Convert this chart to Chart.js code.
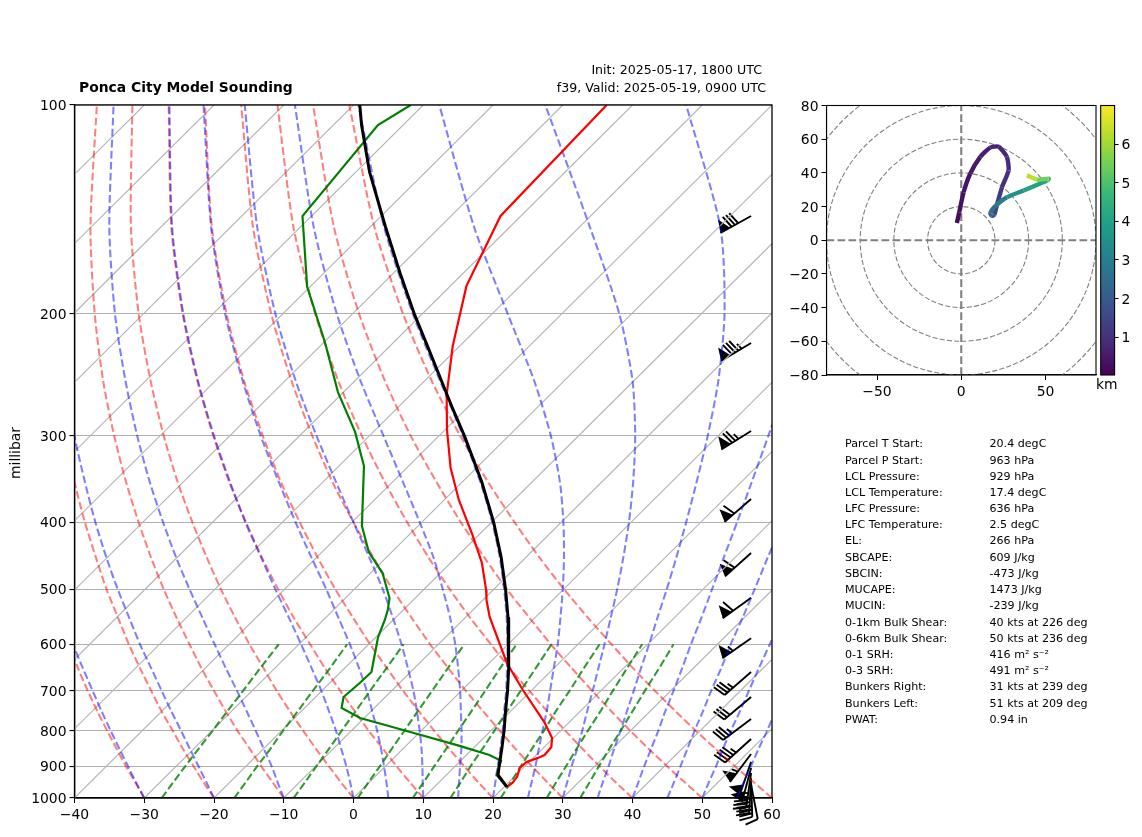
<!DOCTYPE html><html><head><meta charset="utf-8"><title>Ponca City Model Sounding</title>
<script src="https://cdn.jsdelivr.net/npm/chart.js"></script>
<style>
html,body{margin:0;padding:0;background:#fff}
#page{position:relative;width:1142px;height:837px;overflow:hidden;font-family:"DejaVu Sans",sans-serif;color:#000}
canvas{position:absolute;left:0;top:0}
.t{position:absolute;white-space:nowrap;line-height:1}
.s{font-size:11.1px}
.h{font-size:12.6px}
</style></head><body><div id="page">
<canvas id="main" width="1142" height="837"></canvas>
<canvas id="hodo" width="1142" height="837"></canvas>
<canvas id="cbar" width="1142" height="837"></canvas>
</div><script>
// ---------- sounding profiles (hPa, degC)
const tempP=[100,144.6,182.4,222.7,262.1,294.4,334,371.5,417.3,458,501,518,548,638.5,698.5,777,819,844,867,876,887,905,932,951,964];
const tempT=[-63.7,-62.9,-57.7,-51,-44.8,-39.7,-33.7,-27.9,-20.9,-15.5,-11,-9.5,-6.6,2.5,8.7,16.4,19.8,21,21.2,20.6,19.6,19.5,20.4,20.6,20.4];
const dewP=[100,106.9,144.6,183,219.8,259.6,296.3,331.9,405,441.6,473.6,514.5,535.6,553.5,585.8,621.8,658,682.4,715,741.4,766.6,797.7,841,867,884,926.4,964];
const dewT=[-91.8,-93.6,-91.3,-80.4,-69.9,-60.8,-52.6,-46.4,-38.05,-33.3,-28.3,-23.7,-22.2,-21.2,-19.7,-17.6,-15.6,-15.7,-16,-14.7,-10.6,-2.7,7.7,13.3,15.8,17.2,20.4];
const parcelP=[100,107,125,150,175,200,225,250,275,300,350,400,450,500,550,600,650,700,750,800,850,900,926.4,964];
const parcelT=[-99.1,-95.9,-88,-77.8,-69,-61.2,-54,-47.6,-41.8,-36.4,-27.2,-19.7,-13.5,-8.3,-3.8,0.1,3.5,6.6,9.3,11.9,14.2,16.3,17.4,20.4];
// ---------- wind barbs
const barbP=[144.6,220.5,295.4,370.2,443,514,588,658,715,769,822,864,887,905,920,936,948,957];
const barbSpeed=[80,85,75,60,60,60,55,35,30,35,45,55,50,50,45,45,40,10];
const barbDir=[241,239,238,229,228,234,235,229,230,233,228,217,199,195,188,183,178,169];
// ---------- thermodynamic guide lines
const pressureTicks=[1000,900,800,700,600,500,400,300,200,100];
const isotherms=[-130,-120,-110,-100,-90,-80,-70,-60,-50,-40,-30,-20,-10,0,10,20,30,40,50];
const isothermEnds=[1000,100];
const guideLevels=[1000,950,900,850,800,750,700,650,600,550,500,450,400,350,300,250,200,150,100];
const dryM30=[-30,-33.5,-37.2,-41,-45,-49.2,-53.6,-58.2,-63,-68.2,-73.7,-79.6,-86,-93,-100.8,-109.5,-119.6,-131.7,-147.2];
const dryM20=[-20,-23.7,-27.5,-31.5,-35.6,-40,-44.5,-49.3,-54.4,-59.7,-65.5,-71.6,-78.3,-85.6,-93.7,-102.8,-113.3,-125.9,-142];
const dryM10=[-10,-13.8,-17.8,-21.9,-26.3,-30.8,-35.5,-40.5,-45.7,-51.3,-57.3,-63.7,-70.6,-78.2,-86.6,-96.1,-107,-120.1,-136.8];
const dry0=[0,-4,-8.1,-12.4,-16.9,-21.6,-26.5,-31.6,-37.1,-42.9,-49.1,-55.7,-62.9,-70.8,-79.5,-89.3,-100.7,-114.3,-131.7];
const dry10=[10,5.9,1.6,-2.8,-7.5,-12.3,-17.4,-22.8,-28.4,-34.5,-40.9,-47.8,-55.2,-63.4,-72.4,-82.6,-94.4,-108.5,-126.5];
const dry20=[20,15.7,11.3,6.7,1.9,-3.1,-8.4,-13.9,-19.8,-26,-32.7,-39.8,-47.5,-56,-65.3,-75.9,-88.1,-102.7,-121.3];
const dry30=[30,25.6,21,16.2,11.3,6.1,0.6,-5.1,-11.2,-17.6,-24.5,-31.8,-39.8,-48.6,-58.2,-69.1,-81.7,-96.8,-116.1];
const dry40=[40,35.4,30.7,25.8,20.7,15.3,9.7,3.7,-2.5,-9.2,-16.3,-23.9,-32.1,-41.1,-51.1,-62.4,-75.4,-91,-110.9];
const dry50=[50,45.3,40.4,35.3,30,24.5,18.7,12.6,6.1,-0.7,-8.1,-15.9,-24.4,-33.7,-44.1,-55.7,-69.1,-85.2,-105.8];
const dry60=[60,55.2,50.1,44.9,39.4,33.7,27.7,21.4,14.8,7.7,0.1,-8,-16.7,-26.3,-37,-49,-62.8,-79.4,-100.6];
const moistM30=[-30,-33.4,-36.9,-40.6,-44.5,-48.6,-52.9,-57.5,-62.4,-67.5,-73,-79,-85.4,-92.4,-100.2,-109,-119.1,-131.3,-146.8];
const moistM20=[-20,-23.3,-26.8,-30.5,-34.4,-38.6,-43,-47.7,-52.8,-58.1,-63.9,-70.1,-76.8,-84.1,-92.3,-101.4,-112,-124.7,-141];
const moistM10=[-10,-13.1,-16.3,-19.9,-23.7,-27.8,-32.2,-37,-42.1,-47.6,-53.6,-60.1,-67.1,-74.8,-83.3,-92.9,-104.1,-117.4,-134.4];
const moist0=[0,-2.7,-5.6,-8.8,-12.2,-16,-20.1,-24.7,-29.7,-35.2,-41.3,-47.9,-55.3,-63.3,-72.3,-82.5,-94.3,-108.4,-126.4];
const moist5=[5,2.5,-0.2,-3.1,-6.3,-9.8,-13.6,-17.9,-22.7,-28.1,-34,-40.7,-48.1,-56.3,-65.6,-76.1,-88.3,-102.8,-121.5];
const moist10=[10,7.7,5.3,2.7,-0.2,-3.4,-6.9,-10.9,-15.3,-20.3,-25.9,-32.4,-39.8,-48.1,-57.6,-68.5,-81.1,-96.2,-115.6];
const moist15=[15,12.9,10.7,8.4,5.8,2.9,-0.2,-3.7,-7.6,-12.1,-17.3,-23.2,-30.3,-38.5,-48,-59.2,-72.3,-88.1,-108.4];
const moist20=[20,18.1,16.1,14,11.7,9.1,6.4,3.3,-0.1,-4,-8.5,-13.7,-19.9,-27.4,-36.6,-47.8,-61.4,-78,-99.3];
const moist25=[25,23.3,21.5,19.5,17.4,15.2,12.7,10,7.1,3.7,-0.1,-4.5,-9.7,-16,-24,-34.3,-47.8,-65.1,-87.7];
const moist30=[30,28.4,26.7,25,23.1,21,18.8,16.4,13.8,10.9,7.7,4,-0.3,-5.5,-11.9,-20.2,-31.8,-48.5,-72.5];
const moist35=[35,33.5,32,30.3,28.6,26.7,24.7,22.5,20.2,17.6,14.8,11.6,7.9,3.6,-1.5,-7.9,-16.7,-29.8,-52.3];
const moist40=[40,38.6,37.1,35.6,34,32.2,30.4,28.4,26.2,23.9,21.3,18.4,15.2,11.5,7.2,2,-4.8,-14.2,-30.2];
const moist45=[45,43.7,42.3,40.8,39.2,37.6,35.8,34,31.9,29.8,27.4,24.7,21.8,18.5,14.6,10.1,4.5,-3,-14.3];
const moist50=[50,48.7,47.4,45.9,44.4,42.9,41.2,39.4,37.5,35.4,33.1,30.6,27.9,24.8,21.3,17.1,12,5.6,-3.6];
const moist55=[55,53.7,52.4,51,49.6,48,46.4,44.7,42.8,40.8,38.6,36.2,33.6,30.6,27.3,23.4,18.6,12.7,4.4];
const mixLevels=[1000,950,900,850,800,750,700,650,600];
const mix4=[-27.5,-28.1,-28.7,-29.3,-29.9,-30.6,-31.3,-32.1,-32.9];
const mix10=[-17.1,-17.7,-18.4,-19,-19.8,-20.5,-21.3,-22.1,-23.1];
const mix20=[-8.6,-9.2,-9.9,-10.6,-11.4,-12.2,-13.1,-14,-15];
const mix40=[0.6,-0.1,-0.8,-1.6,-2.4,-3.3,-4.2,-5.2,-6.3];
const mix70=[8.5,7.8,7,6.2,5.3,4.4,3.4,2.3,1.2];
const mix100=[13.9,13.1,12.2,11.4,10.5,9.5,8.5,7.4,6.2];
const mix160=[21.1,20.3,19.4,18.5,17.6,16.5,15.5,14.3,13.1];
const mix240=[27.7,26.8,25.9,24.9,23.9,22.9,21.7,20.5,19.2];
const mix320=[32.5,31.6,30.6,29.6,28.6,27.5,26.3,25.1,23.7];
// ---------- hodograph
const hodoU=[-2.6,-1.2,1.4,5.3,11.3,17.2,22.2,27.1,28.1,24.2,21.6,19.6,18.2,17.2,20.2,27.1,37,50.9,51.9,45,39];
const hodoV=[10.2,16.6,28.5,39.5,49.5,55,55.5,49.5,41.5,31.5,22.5,15,14.6,16.2,20.2,25.5,29.5,35.5,36.5,36,38.5];
const hodoKm=[0.1,0.2,0.3,0.4,0.5,0.6,0.7,0.8,0.9,1,1.2,1.5,1.8,2,2.5,3,3.5,4,4.6,5.5,6.3];
const hodoRings=[20,40,60,80,100];
const hodoXTicks=[-50,0,50];
const colorbarTicks=[1,2,3,4,5,6];
const viridisStops=['#440154','#482878','#3e4989','#31688e','#26828e','#1f9e89','#35b779','#6ece58','#b5de2b','#fde725'];
// ---------- text
const statLabels=['Parcel T Start:','Parcel P Start:','LCL Pressure:','LCL Temperature:','LFC Pressure:','LFC Temperature:','EL:','SBCAPE:','SBCIN:','MUCAPE:','MUCIN:','0-1km Bulk Shear:','0-6km Bulk Shear:','0-1 SRH:','0-3 SRH:','Bunkers Right:','Bunkers Left:','PWAT:'];
const statValues=['20.4 degC','963 hPa','929 hPa','17.4 degC','636 hPa','2.5 degC','266 hPa','609 J/kg','-473 J/kg','1473 J/kg','-239 J/kg','40 kts at 226 deg','50 kts at 236 deg','416 m² s⁻²','491 m² s⁻²','31 kts at 239 deg','51 kts at 209 deg','0.94 in'];
const statY=[443.3,460,476,492.3,508.3,524.3,540.7,557,573,589.3,605.3,622.3,638.3,654,670,686.3,703,719];

const FONT='"DejaVu Sans", sans-serif';
const minus=v=>String(v).replace('-','\u2212');
const skew=(t,p)=>t+100*Math.log10(1000/p);
const pts=(ts,ps)=>ts.map((t,i)=>({x:skew(t,ps[i]),y:ps[i]}));
const DASH=[7.7,3.3];
const guide=(ts,ps,color,order,tension)=>({data:pts(ts,ps),borderColor:color,borderWidth:2.08,borderDash:DASH,pointRadius:0,showLine:true,tension,order});
const RED='rgba(255,0,0,0.5)',BLUE='rgba(0,0,255,0.5)',GREEN='rgba(0,128,0,0.8)';
const datasets=[];
isotherms.forEach(t=>datasets.push({data:pts(isothermEnds.map(()=>t),isothermEnds),borderColor:'#b4b4b4',borderWidth:1.1,pointRadius:0,showLine:true,order:50}));
[dryM30,dryM20,dryM10,dry0,dry10,dry20,dry30,dry40,dry50,dry60].forEach(a=>datasets.push(guide(a,guideLevels,RED,40,0.25)));
[moistM30,moistM20,moistM10,moist0,moist5,moist10,moist15,moist20,moist25,moist30,moist35,moist40,moist45,moist50,moist55].forEach(a=>datasets.push(guide(a,guideLevels,BLUE,30,0.25)));
[mix4,mix10,mix20,mix40,mix70,mix100,mix160,mix240,mix320].forEach(a=>datasets.push(guide(a,mixLevels,GREEN,20,0)));
datasets.push({data:pts(dewT,dewP),borderColor:'#008000',borderWidth:2.2,pointRadius:0,showLine:true,order:3});
datasets.push({data:pts(tempT,tempP),borderColor:'#ff0000',borderWidth:2.2,pointRadius:0,showLine:true,order:2});
datasets.push({data:pts(parcelT,parcelP),borderColor:'#000',borderWidth:3,pointRadius:0,showLine:true,order:1,borderJoinStyle:'round'});

function drawBarb(c,px,py,speed,dir){
  const LEN=35,H=13,W=11,SP=3.7,SL=3;
  const r=dir*Math.PI/180, dx=Math.sin(r), dy=-Math.cos(r), nx=-dy, ny=dx;
  let s=Math.round(speed/5)*5, flags=Math.floor(s/50); s-=flags*50;
  let full=Math.floor(s/10); s-=full*10; const half=s>=5;
  const ex=px+dx*LEN, ey=py+dy*LEN;
  c.strokeStyle='#000';c.fillStyle='#000';c.lineWidth=1.9;c.lineCap='butt';
  c.beginPath();c.moveTo(px,py);c.lineTo(ex,ey);c.stroke();
  let off=0;
  const at=(o,h,w)=>[ex-dx*o+nx*h+dx*w, ey-dy*o+ny*h+dy*w];
  for(let i=0;i<flags;i++){
    c.beginPath();const a=at(off,0,0),b=at(off,H,-W*0.4),d=at(off+W,0,0);
    c.moveTo(a[0],a[1]);c.lineTo(b[0],b[1]);c.lineTo(d[0],d[1]);c.closePath();c.fill();
    off+=W+1.8;
  }
  for(let i=0;i<full;i++){
    const a=at(off,0,0),b=at(off,H,SL);
    c.beginPath();c.moveTo(a[0],a[1]);c.lineTo(b[0],b[1]);c.stroke();off+=SP;
  }
  if(half){
    const a=at(off,0,0),b=at(off,H/2,SL/2);
    c.beginPath();c.moveTo(a[0],a[1]);c.lineTo(b[0],b[1]);c.stroke();
  }
}
const barbPlugin={id:'barbs',beforeDatasetsDraw(ch){
  const x=ch.scales.x,y=ch.scales.y,c=ch.ctx;c.save();
  barbP.forEach((p,i)=>drawBarb(c,x.getPixelForValue(57),y.getPixelForValue(p),barbSpeed[i],barbDir[i]));
  c.restore();
}};
const frame=(lw)=>({id:'frame',afterDraw(ch){const a=ch.chartArea,c=ch.ctx;c.save();c.strokeStyle='#000';c.lineWidth=lw;c.strokeRect(a.left,a.top,a.right-a.left,a.bottom-a.top);c.restore();}});
const setTicks=vals=>(s)=>{s.ticks=vals.map(v=>({value:v}));};

new Chart(document.getElementById('main'),{type:'scatter',data:{datasets},plugins:[barbPlugin,frame(1.3)],options:{
  responsive:false,animation:false,devicePixelRatio:1,
  layout:{padding:{left:0,top:105,right:370,bottom:0}},
  plugins:{legend:{display:false},tooltip:{enabled:false},title:{display:false}},
  scales:{
    x:{type:'linear',min:-40,max:60,afterFit(s){s.height=39;},
      ticks:{stepSize:10,color:'#000',font:{family:FONT,size:13.9},padding:4,maxRotation:0,callback:minus},
      grid:{drawOnChartArea:false,color:'#000',tickColor:'#000',tickLength:5},border:{color:'#000',width:1.3}},
    y:{type:'logarithmic',reverse:true,min:100,max:1000,afterBuildTicks:setTicks(pressureTicks),afterFit(s){s.width=74.5;},
      ticks:{color:'#000',font:{family:FONT,size:13.9},padding:3,autoSkip:false,labelOffset:1.5,callback:v=>String(v)},
      grid:{color:'#b0b0b0',lineWidth:1.1,tickColor:'#000',tickLength:5},border:{color:'#000',width:1.3}}
  }}});

function viridis(f){
  f=Math.min(1,Math.max(0,f))*(viridisStops.length-1);
  const i=Math.min(viridisStops.length-2,Math.floor(f)),t=f-i;
  const h=s=>[1,3,5].map(k=>parseInt(s.substr(k,2),16));
  const a=h(viridisStops[i]),b=h(viridisStops[i+1]);
  return 'rgb('+a.map((v,k)=>Math.round(v+(b[k]-v)*t)).join(',')+')';
}
const ringPlugin={id:'rings',beforeDatasetsDraw(ch){
  const a=ch.chartArea,x=ch.scales.x,y=ch.scales.y,c=ch.ctx;c.save();
  c.beginPath();c.rect(a.left,a.top,a.right-a.left,a.bottom-a.top);c.clip();
  c.strokeStyle='#808080';c.lineWidth=1.1;c.setLineDash([5.1,2.2]);
  const cx=x.getPixelForValue(0),cy=y.getPixelForValue(0);
  hodoRings.forEach(r=>{const rx=x.getPixelForValue(r)-cx,ry=cy-y.getPixelForValue(r);c.beginPath();c.ellipse(cx,cy,rx,ry,0,0,Math.PI*2);c.stroke();});
  c.restore();
}};
const zeroLine=(pts)=>({data:pts,borderColor:'#808080',borderWidth:2.08,borderDash:DASH,pointRadius:0,showLine:true,order:5});
new Chart(document.getElementById('hodo'),{type:'scatter',data:{datasets:[
  zeroLine([{x:-80,y:0},{x:80,y:0}]),zeroLine([{x:0,y:-80},{x:0,y:80}]),
  {data:hodoU.map((u,i)=>({x:u,y:hodoV[i]})),showLine:true,pointRadius:0,borderWidth:4.4,tension:0.2,order:1,borderColor:viridis(0),
   segment:{borderColor:c=>viridis(hodoKm[c.p1DataIndex]/7)}}
]},plugins:[ringPlugin,frame(1.1)],options:{
  responsive:false,animation:false,devicePixelRatio:1,
  layout:{padding:{left:780,top:105.5,right:46,bottom:437}},
  plugins:{legend:{display:false},tooltip:{enabled:false}},
  scales:{
    x:{type:'linear',min:-80,max:80,afterBuildTicks:setTicks(hodoXTicks),afterFit(s){s.height=25;},
      ticks:{color:'#000',font:{family:FONT,size:13.9},padding:4,maxRotation:0,autoSkip:false,callback:minus},
      grid:{drawOnChartArea:false,color:'#000',tickColor:'#000',tickLength:5},border:{color:'#000',width:1.1}},
    y:{type:'linear',min:-80,max:80,afterFit(s){s.width=46.5;},
      ticks:{stepSize:20,color:'#000',font:{family:FONT,size:13.9},padding:3,autoSkip:false,labelOffset:1.5,callback:minus},
      grid:{drawOnChartArea:false,color:'#000',tickColor:'#000',tickLength:5},border:{color:'#000',width:1.1}}
  }}});

new Chart(document.getElementById('cbar'),{type:'bar',data:{labels:['km'],datasets:[{data:[[0.02,7]],barPercentage:1,categoryPercentage:1,
  backgroundColor(c){const a=c.chart.chartArea;if(!a)return viridisStops[0];
    const g=c.chart.ctx.createLinearGradient(0,a.bottom,0,a.top);
    viridisStops.forEach((s,i)=>g.addColorStop(i/(viridisStops.length-1),s));return g;}}]},
  plugins:[frame(1.1)],options:{responsive:false,animation:false,devicePixelRatio:1,
  layout:{padding:{left:1100.7,top:105.5,right:7.7,bottom:462}},
  plugins:{legend:{display:false},tooltip:{enabled:false}},
  scales:{
    x:{display:false},
    y:{position:'right',min:0.02,max:7,afterBuildTicks:setTicks(colorbarTicks),afterFit(s){s.width=19.7;},
      ticks:{color:'#000',font:{family:FONT,size:13.9},padding:3,autoSkip:false,labelOffset:1.5,callback:v=>String(v)},
      grid:{drawOnChartArea:false,color:'#000',tickColor:'#000',tickLength:4},border:{display:false}}
  }}});

const page=document.getElementById('page');
function addText(txt,css,cls){const d=document.createElement('div');d.className='t '+(cls||'');d.textContent=txt;d.style.cssText=css;page.appendChild(d);return d;}
addText('Ponca City Model Sounding','left:79px;top:81px;font-size:13.9px;font-weight:bold;');
addText('Init: 2025-05-17, 1800 UTC','right:380px;top:64px;','h');
addText('f39, Valid: 2025-05-19, 0900 UTC','right:376px;top:82px;','h');
addText('km','left:1096px;top:378px;font-size:13.9px;');
addText('millibar','left:16px;top:453px;font-size:13.9px;transform:translate(-50%,-50%) rotate(-90deg);');
statLabels.forEach((l,i)=>{addText(l,'left:845px;top:'+(statY[i]-5.5)+'px;','s');addText(statValues[i],'left:989.5px;top:'+(statY[i]-5.5)+'px;','s');});
</script></body></html>
